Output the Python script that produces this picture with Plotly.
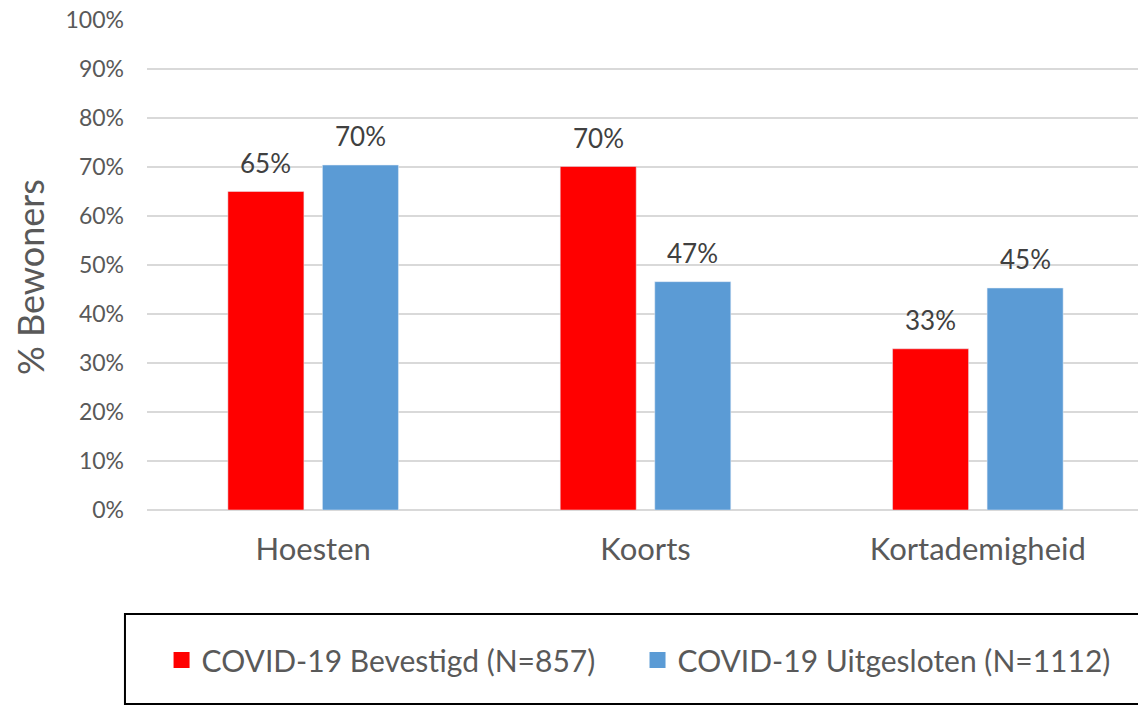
import plotly.graph_objects as go

categories = ["Hoesten", "Koorts", "Kortademigheid"]
bevestigd = [0.650, 0.701, 0.329]
uitgesloten = [0.704, 0.466, 0.453]
series_names = ["COVID-19 Bevestigd (N=857)", "COVID-19 Uitgesloten (N=1112)"]
colors = ["#FF0000", "#5B9BD5"]
y_ticks = [i / 10 for i in range(11)]
y_ticklabels = [f"{i*10}%" for i in range(11)]

FONT = "Lato"
TXT = "#595959"
LBL = "#404040"

# the original plot area runs slightly past the right edge of the picture
W, H = 1144, 705
ML, MR, MT, MB = 147, 0, 20, 195
BARGAP, GROUPGAP = 0.431, 0.196
legend_ids = ["legend", "legend2"]
legend_x = [0.0146, 0.492]

fig = go.Figure()
series = [bevestigd, uitgesloten]
for name, vals, col, lid in zip(series_names, series, colors, legend_ids):
    fig.add_trace(go.Bar(x=categories, y=vals, name=name, marker_color=col,
                         showlegend=False, hoverinfo="x+y"))
    fig.add_trace(go.Scatter(x=[None], y=[None], mode="markers", name=name,
                             legend=lid,
                             marker=dict(symbol="square", size=17, color=col)))

# data labels above bars
cat_w = (W - ML - MR) / len(categories)
slot = cat_w * (1 - BARGAP) / len(series)
for i, vals in enumerate(series):
    off = (i - (len(series) - 1) / 2) * slot
    for c, v in zip(categories, vals):
        fig.add_annotation(x=c, y=v, xref="x", yref="y", text=f"{v:.0%}",
                           showarrow=False, xshift=off, yshift=29,
                           xanchor="center", yanchor="middle",
                           font=dict(family=FONT, size=26, color=LBL))

leg_style = dict(orientation="h", xanchor="left", y=-0.306, yanchor="middle",
                 font=dict(family=FONT, size=30, color=TXT),
                 bgcolor="rgba(0,0,0,0)")
fig.update_layout(
    width=W, height=H,
    paper_bgcolor="white", plot_bgcolor="white",
    margin=dict(l=ML, r=MR, t=MT, b=MB, autoexpand=False),
    barmode="group", bargap=BARGAP, bargroupgap=GROUPGAP,
    font=dict(family=FONT, color=TXT),
    showlegend=True,
    legend=dict(x=legend_x[0], **leg_style),
    legend2=dict(x=legend_x[1], **leg_style),
)
fig.update_xaxes(
    showgrid=False, showline=False, ticks="", tickfont=dict(size=31, color=TXT),
    ticklabelstandoff=18,
)
fig.update_yaxes(
    range=[0, 1], tickvals=y_ticks, ticktext=y_ticklabels,
    showgrid=True, gridcolor="#D9D9D9", gridwidth=1.5,
    zeroline=True, zerolinecolor="#D9D9D9", zerolinewidth=1.5,
    showline=False, ticks="", tickfont=dict(size=23, color=TXT),
    ticklabelstandoff=22,
)
fig.add_annotation(
    text="% Bewoners", textangle=-90, xref="paper", yref="paper",
    x=-0.1175, y=0.475, xanchor="center", yanchor="middle", showarrow=False,
    font=dict(family=FONT, size=36, color=TXT),
)
fig.add_shape(
    type="rect", xref="paper", yref="paper",
    x0=-0.0221, x1=1.01, y0=-0.2122, y1=-0.396,
    line=dict(color="black", width=2), fillcolor="rgba(0,0,0,0)", layer="above",
)
fig.write_html("out.html", config={"displayModeBar": False},
               post_script="document.body.style.margin='0';document.body.style.overflow='hidden';")
